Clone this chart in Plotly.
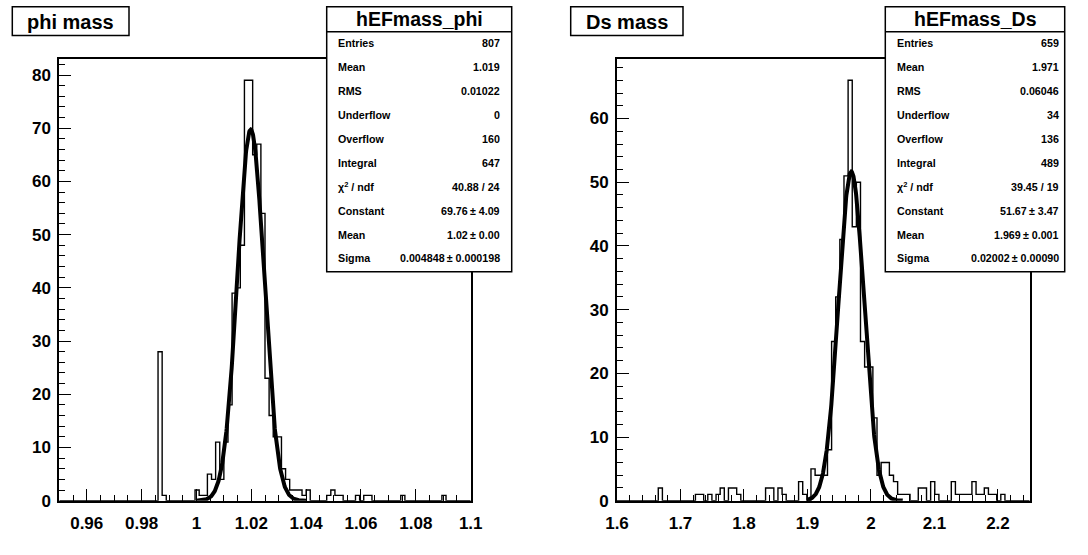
import numpy as np
import plotly.graph_objects as go

W, H = 1088, 555

# ---------------- data ----------------
phi_xmin, phi_xmax, phi_nbins = 0.95, 1.10, 100
phi_counts = [
    0, 0, 0, 0, 0, 0, 0, 0, 0, 0,
    0, 0, 0, 0, 0, 0, 0, 0, 0, 0,
    0, 0, 0, 0, 28, 1, 0, 0, 0, 0,
    0, 0, 0, 2, 1, 1, 5, 4, 11, 4,
    11, 18, 39, 40, 48, 79, 79, 65, 67, 54,
    23, 16, 12, 12, 6, 4, 2, 2, 2, 1,
    2, 0, 0, 0, 0, 1, 2, 1, 1, 0,
    0, 0, 1, 0, 1, 1, 0, 0, 0, 0,
    0, 0, 0, 1, 0, 0, 0, 0, 0, 0,
    0, 0, 0, 1, 0, 0, 0, 0, 0, 0,
]
phi_fit = dict(const=69.76, mean=1.0198, sigma=0.004848, lo=1.0, hi=1.04)
phi_ymax = 82.95
phi_xticks = [0.96, 0.98, 1.00, 1.02, 1.04, 1.06, 1.08, 1.10]
phi_xticklabels = ["0.96", "0.98", "1", "1.02", "1.04", "1.06", "1.08", "1.1"]
phi_yticks = [0, 10, 20, 30, 40, 50, 60, 70, 80]

ds_xmin, ds_xmax, ds_nbins = 1.6, 2.25, 100
ds_counts = [
    0, 0, 0, 0, 0, 0, 0, 0, 0, 0,
    2, 0, 0, 0, 0, 0, 0, 0, 0, 1,
    1, 0, 1, 0, 1, 2, 0, 2, 2, 1,
    0, 0, 0, 0, 0, 0, 2, 2, 0, 2,
    1, 0, 0, 0, 3, 1, 0, 5, 4, 4,
    4, 8, 25, 32, 41, 51, 66, 43, 50, 25,
    21, 21, 13, 4, 6, 6, 4, 3, 1, 1,
    1, 0, 0, 2, 2, 0, 3, 1, 0, 0,
    0, 3, 1, 1, 1, 1, 3, 1, 1, 2,
    1, 1, 0, 1, 0, 0, 0, 0, 0, 0,
]
ds_fit = dict(const=51.67, mean=1.969, sigma=0.02002, lo=1.9, hi=2.05)
ds_ymax = 69.3
ds_xticks = [1.6, 1.7, 1.8, 1.9, 2.0, 2.1, 2.2]
ds_xticklabels = ["1.6", "1.7", "1.8", "1.9", "2", "2.1", "2.2"]
ds_yticks = [0, 10, 20, 30, 40, 50, 60]

phi_title = "phi mass"
ds_title = "Ds mass"
phi_stats_name = "hEFmass_phi"
ds_stats_name = "hEFmass_Ds"
stats_labels = ["Entries", "Mean", "RMS", "Underflow", "Overflow", "Integral",
                "χ<sup>2</sup> / ndf", "Constant", "Mean", "Sigma"]
phi_stats_values = ["807", "1.019", "0.01022", "0", "160", "647", "40.88 / 24",
                    "69.76\u2009± 4.09", "1.02\u2009± 0.00", "0.004848\u2009± 0.000198"]
ds_stats_values = ["659", "1.971", "0.06046", "34", "136", "489", "39.45 / 19",
                   "51.67\u2009± 3.47", "1.969\u2009± 0.001", "0.02002\u2009± 0.00090"]

# ---------------- layout helpers (pixels -> paper) ----------------
def px(x):
    return x / W

def py(y):
    return 1 - y / H

FONT = "Liberation Sans"
fig = go.Figure()

panels = [
    dict(xa="x", ya="y", xmin=phi_xmin, xmax=phi_xmax, nb=phi_nbins, counts=phi_counts,
         fit=phi_fit, ymax=phi_ymax, xt=phi_xticks, xtl=phi_xticklabels, yt=phi_yticks,
         xdom=(59.3, 470.7), xminor=0.005, title=phi_title, tbox=(12.3, 129.0),
         sname=phi_stats_name, svals=phi_stats_values, sbox=(326.7, 511.7),
         slab=336.0, sval=501.7),
    dict(xa="x2", ya="y2", xmin=ds_xmin, xmax=ds_xmax, nb=ds_nbins, counts=ds_counts,
         fit=ds_fit, ymax=ds_ymax, xt=ds_xticks, xtl=ds_xticklabels, yt=ds_yticks,
         xdom=(617.0, 1029.7), xminor=0.02, title=ds_title, tbox=(570.7, 683.0),
         sname=ds_stats_name, svals=ds_stats_values, sbox=(885.3, 1064.7),
         slab=894.7, sval=1061.3),
]

frame_top, frame_bot = 59.3, 500.7
shapes, annots = [], []

for i, p in enumerate(panels):
    edges = np.linspace(p["xmin"], p["xmax"], p["nb"] + 1)
    yy = list(p["counts"]) + [p["counts"][-1]]
    fig.add_trace(go.Scatter(x=edges, y=yy, mode="lines", line_shape="hv",
                             line=dict(color="black", width=1.4),
                             xaxis=p["xa"], yaxis=p["ya"], showlegend=False,
                             hoverinfo="skip"))
    f = p["fit"]
    xf = np.linspace(f["lo"], f["hi"], 400)
    yf = f["const"] * np.exp(-0.5 * ((xf - f["mean"]) / f["sigma"]) ** 2)
    fig.add_trace(go.Scatter(x=xf, y=yf, mode="lines",
                             line=dict(color="black", width=4),
                             xaxis=p["xa"], yaxis=p["ya"], showlegend=False,
                             hoverinfo="skip"))

    axkey = "xaxis" if i == 0 else "xaxis2"
    aykey = "yaxis" if i == 0 else "yaxis2"
    fig.layout[axkey] = dict(
        domain=[px(p["xdom"][0]), px(p["xdom"][1])],
        range=[p["xmin"], p["xmax"]], anchor=p["ya"], automargin=False,
        showgrid=False, zeroline=False, showline=True, linecolor="black",
        linewidth=2, mirror=True, ticks="inside", ticklen=12, tickwidth=1,
        tickcolor="black", tickvals=p["xt"], ticktext=p["xtl"],
        tickfont=dict(family=FONT, size=17, color="black", weight="bold"),
        ticklabelstandoff=6,
        minor=dict(dtick=p["xminor"], tick0=p["xmin"], ticks="inside", ticklen=6,
                   tickwidth=1, tickcolor="black", showgrid=False),
    )
    fig.layout[aykey] = dict(
        domain=[py(frame_bot), py(frame_top)],
        range=[0, p["ymax"]], anchor=p["xa"], automargin=False,
        showgrid=False, zeroline=False, showline=True, linecolor="black",
        linewidth=2, mirror=True, ticks="inside", ticklen=12, tickwidth=1,
        tickcolor="black", tickvals=p["yt"], ticktext=[str(v) for v in p["yt"]],
        tickfont=dict(family=FONT, size=17, color="black", weight="bold"),
        ticklabelstandoff=3,
        minor=dict(dtick=2, tick0=0, ticks="inside", ticklen=6, tickwidth=1,
                   tickcolor="black", showgrid=False),
    )

    # title box
    tx0, tx1 = p["tbox"]
    shapes.append(dict(type="rect", xref="paper", yref="paper",
                       x0=px(tx0), x1=px(tx1), y0=py(35.5), y1=py(6.7),
                       line=dict(color="black", width=1.5), fillcolor="white",
                       layer="above"))
    annots.append(dict(xref="paper", yref="paper", x=px((tx0 + tx1) / 2), y=py(21.5),
                       text=p["title"], showarrow=False, xanchor="center",
                       yanchor="middle",
                       font=dict(family=FONT, size=20, color="black", weight="bold")))

    # stats box
    sx0, sx1 = p["sbox"]
    shapes.append(dict(type="rect", xref="paper", yref="paper",
                       x0=px(sx0), x1=px(sx1), y0=py(271.7), y1=py(6.7),
                       line=dict(color="black", width=1.5), fillcolor="white",
                       layer="above"))
    shapes.append(dict(type="line", xref="paper", yref="paper",
                       x0=px(sx0), x1=px(sx1), y0=py(31.7), y1=py(31.7),
                       line=dict(color="black", width=1.5), layer="above"))
    annots.append(dict(xref="paper", yref="paper", x=px((sx0 + sx1) / 2), y=py(19.5),
                       text=p["sname"], showarrow=False, xanchor="center",
                       yanchor="middle",
                       font=dict(family=FONT, size=19.5, color="black", weight="bold")))
    for k, (lab, val) in enumerate(zip(stats_labels, p["svals"])):
        yrow = 43.3 + k * 23.9
        annots.append(dict(xref="paper", yref="paper", x=px(p["slab"]), y=py(yrow),
                           text=lab, showarrow=False, xanchor="left", yanchor="middle",
                           font=dict(family=FONT, size=10.7, color="black", weight="bold")))
        annots.append(dict(xref="paper", yref="paper", x=px(p["sval"]), y=py(yrow),
                           text=val, showarrow=False, xanchor="right", yanchor="middle",
                           font=dict(family=FONT, size=10.7, color="black", weight="bold")))

fig.update_layout(width=W, height=H, margin=dict(l=0, r=0, t=0, b=0, autoexpand=False),
                  paper_bgcolor="white", plot_bgcolor="white",
                  shapes=shapes, annotations=annots, showlegend=False)

fig.write_html("out.html")
